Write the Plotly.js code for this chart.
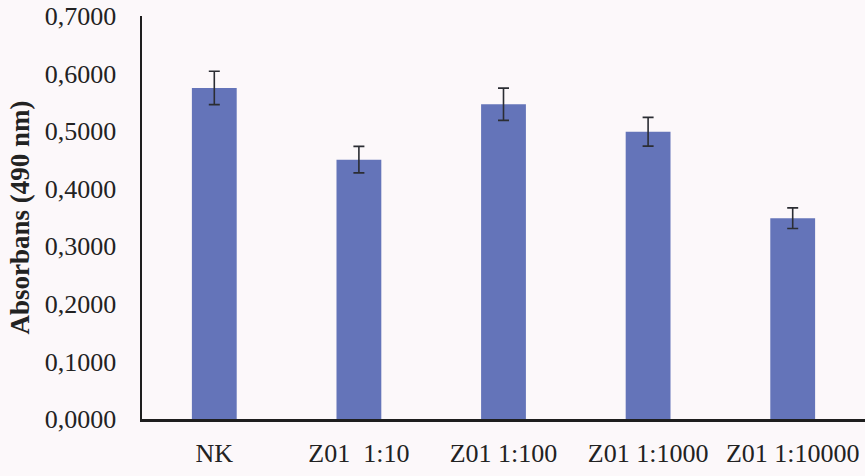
<!DOCTYPE html>
<html>
<head>
<meta charset="utf-8">
<script src="https://cdn.plot.ly/plotly-3.0.1.min.js"></script>
<style>
  html, body { margin: 0; padding: 0; background: #fcf8fa; }
  #chart { width: 865px; height: 476px; }
</style>
</head>
<body>
<div id="chart"></div>
<script>
const categories = ["NK", "Z01  1:10", "Z01 1:100", "Z01 1:1000", "Z01 1:10000"];
const absorbance = [0.575, 0.4505, 0.5467, 0.499, 0.3488];
const errorValues = [0.029, 0.023, 0.028, 0.025, 0.018];
const yTickValues = [0, 0.1, 0.2, 0.3, 0.4, 0.5, 0.6, 0.7];

const serif = "Liberation Serif, Times New Roman, serif";

const trace = {
  type: "bar",
  x: categories,
  y: absorbance,
  width: 0.31,
  marker: { color: "#6474b9", line: { width: 0 } },
  error_y: {
    type: "data",
    array: errorValues,
    visible: true,
    color: "#2b2d33",
    thickness: 1.6,
    width: 5.5
  },
  hoverinfo: "x+y"
};

const layout = {
  width: 865,
  height: 476,
  paper_bgcolor: "#fcf8fa",
  plot_bgcolor: "#fcf8fa",
  separators: ",.",
  margin: { l: 142, r: 0, t: 16, b: 57 },
  showlegend: false,
  font: { family: serif, color: "#222222", size: 26 },
  xaxis: {
    type: "category",
    showline: true,
    linecolor: "#1e1e1e",
    linewidth: 2.5,
    showgrid: false,
    zeroline: false,
    ticks: "",
    ticklabelstandoff: 9,
    tickfont: { family: serif, size: 26, color: "#222222" }
  },
  yaxis: {
    range: [0, 0.7],
    tickvals: yTickValues,
    tickformat: ".4f",
    showline: true,
    linecolor: "#1e1e1e",
    linewidth: 2.5,
    showgrid: false,
    zeroline: false,
    ticks: "",
    ticklabelstandoff: 18,
    tickfont: { family: serif, size: 26, color: "#222222" },
    title: {
      text: "<b>Absorbans (490 nm)</b>",
      font: { family: serif, size: 27, color: "#222222" },
      standoff: 8
    }
  }
};

Plotly.newPlot("chart", [trace], layout, { displayModeBar: false, staticPlot: true });
</script>
</body>
</html>
